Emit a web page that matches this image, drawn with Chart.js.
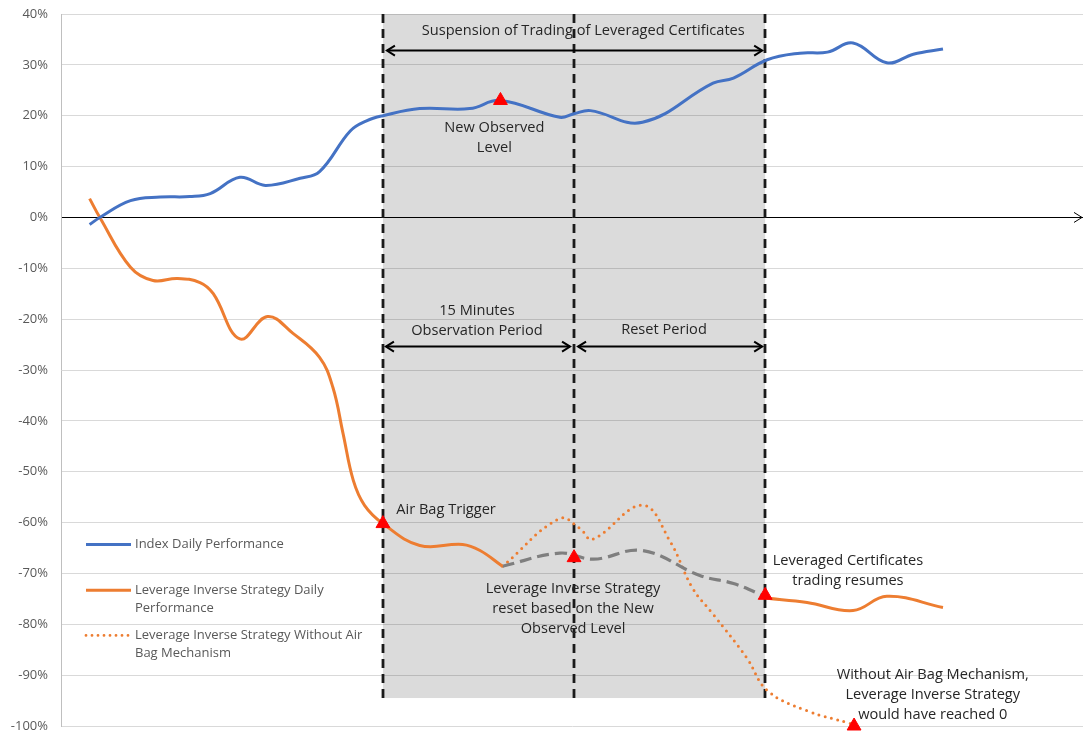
<!DOCTYPE html>
<html>
<head>
<meta charset="utf-8">
<script src="https://cdn.jsdelivr.net/npm/chart.js@4.4.1/dist/chart.umd.min.js"></script>
<style>
    body { margin: 0; background: #fff; }
    #wrap { width: 1083px; height: 735px; }
</style>
</head>
<body>
<div id="wrap"><canvas id="airbagChart" width="1083" height="735"></canvas></div>
<script>
// Data (x = time steps, y = performance in %)
const indexX = [2.8, 3.8, 6.8, 9.7, 12.6, 14.6, 17.5, 20, 23.4, 25.3, 28.3, 29.9, 31.5, 35.1, 40, 43, 48.8, 50.2, 51.8, 56.9, 63.8, 65.8, 69.1, 72.3, 75, 77.5, 80.8, 83.4, 86.3];
const indexY = [-1.4, 0, 3.3, 4.0, 4.1, 4.7, 7.9, 6.3, 7.7, 9.0, 17, 19, 20, 21.4, 21.4, 23, 19.7, 20.4, 21, 18.7, 26.4, 27.4, 31, 32.3, 32.5, 34.3, 30.4, 32.1, 33.1];

const inverseX = [2.8, 3.8, 6.8, 9.0, 11.4, 13.6, 14.9, 17.5, 20.2, 22.7, 25.3, 26.6, 27.6, 28.6, 29.7, 31.5, 35.1, 39.3, 41, 43.2];
const inverseY = [3.7, 0, -9.8, -12.4, -12, -12.8, -15, -23.9, -19.5, -22.8, -27.5, -33.4, -42.5, -51.7, -56.6, -60.2, -64.5, -64.3, -65.5, -68.6];

const resumedX = [69.1, 73, 77.5, 80.8, 86.3];
const resumedY = [-74.9, -75.7, -77.3, -74.5, -76.7];

const resetX = [43.2, 48.8, 52.1, 56.9, 62.5, 65.8, 69.1];
const resetY = [-68.6, -66, -67.2, -65.5, -70.4, -72, -74.7];

const noAirbagX = [43.2, 48.8, 50.8, 52, 56.9, 59.6, 61.8, 63.8, 67.1, 69.1, 73, 77.2, 77.6];
const noAirbagY = [-68.6, -59.2, -61.2, -63.3, -56.6, -63.7, -72.9, -78, -86.6, -93, -97, -99.5, -100];

const eventX = [31.5, 43, 50.2, 68.9, 77.6];
const eventY = [-60.2, 23, -66.9, -74.3, -100];

const yTicks = [40, 30, 20, 10, 0, -10, -20, -30, -40, -50, -60, -70, -80, -90, -100];

// phases: air bag trigger, reset start, trading resumes
const phaseLines = [31.5, 50.2, 68.9];

const toPoints = (xs, ys) => xs.map((v, i) => ({ x: v, y: ys[i] }));

const BLUE = '#4472c4';
const ORANGE = '#ed7d31';
const GREY = '#7f7f7f';
const TEXT = '#262626';

function arrowHead(ctx, x, y, dir) {
    ctx.beginPath();
    ctx.moveTo(x - dir * 8, y - 5);
    ctx.lineTo(x, y);
    ctx.lineTo(x - dir * 8, y + 5);
    ctx.stroke();
}

function doubleArrow(ctx, x1, x2, y) {
    ctx.beginPath();
    ctx.moveTo(x1, y);
    ctx.lineTo(x2, y);
    ctx.stroke();
    arrowHead(ctx, x1, y, -1);
    arrowHead(ctx, x2, y, 1);
}

function textLines(ctx, lines, x, y, align) {
    ctx.textAlign = align || 'center';
    lines.forEach((l, i) => ctx.fillText(l, x, y + i * 20));
}

const notesPlugin = {
    id: 'airbagNotes',
    beforeDatasetsDraw(chart) {
        const { ctx, scales: { x, y } } = chart;
        const left = x.getPixelForValue(phaseLines[0]);
        const right = x.getPixelForValue(phaseLines[2]);
        const top = y.getPixelForValue(40);
        const bottom = y.getPixelForValue(-94.5);
        ctx.save();
        ctx.fillStyle = 'rgba(0,0,0,0.14)';
        ctx.fillRect(left, top, right - left, bottom - top);

        ctx.strokeStyle = '#1a1a1a';
        ctx.lineWidth = 2.8;
        ctx.setLineDash([9, 6]);
        phaseLines.forEach(v => {
            const px = Math.round(x.getPixelForValue(v));
            ctx.beginPath();
            ctx.moveTo(px, top);
            ctx.lineTo(px, bottom);
            ctx.stroke();
        });
        ctx.restore();
    },
    afterDatasetsDraw(chart) {
        const { ctx, chartArea, scales: { x, y } } = chart;
        const px = v => x.getPixelForValue(v);
        const py = v => y.getPixelForValue(v);
        ctx.save();

        // arrow at the end of the zero line
        ctx.strokeStyle = '#000';
        ctx.lineWidth = 1;
        arrowHead(ctx, chartArea.right - 1, py(0), 1);

        // period arrows
        ctx.lineWidth = 2;
        doubleArrow(ctx, px(phaseLines[0]) + 4, px(phaseLines[2]) - 3, py(32.8));
        doubleArrow(ctx, px(phaseLines[0]) + 3, px(phaseLines[1]) - 4, py(-25.4));
        doubleArrow(ctx, px(phaseLines[1]) + 4, px(phaseLines[2]) - 3, py(-25.4));

        ctx.fillStyle = TEXT;
        ctx.font = '14.6px "Open Sans"';
        ctx.textBaseline = 'middle';
        textLines(ctx, ['Suspension of Trading of Leveraged Certificates'], px(51.1), py(36.6));
        textLines(ctx, ['15 Minutes', 'Observation Period'], px(40.7), py(-18.3));
        textLines(ctx, ['Reset Period'], px(59), py(-22.2));
        textLines(ctx, ['New Observed', 'Level'], px(42.4), py(17.7));
        textLines(ctx, ['Air Bag Trigger'], px(32.8), py(-57.4), 'left');
        textLines(ctx, ['Leverage Inverse Strategy', 'reset based on the New', 'Observed Level'], px(50.1), py(-73));
        textLines(ctx, ['Leveraged Certificates', 'trading resumes'], px(77), py(-67.6));
        textLines(ctx, ['Without Air Bag Mechanism,', 'Leverage Inverse Strategy', 'would have reached 0'], px(85.3), py(-90));

        // legend inside the plot
        const lx = chartArea.left + 25;
        const items = [
            { color: BLUE, dash: [], lines: ['Index Daily Performance'], y: -64.3 },
            { color: ORANGE, dash: [], lines: ['Leverage Inverse Strategy Daily', 'Performance'], y: -73.3 },
            { color: ORANGE, dash: [0, 6], lines: ['Leverage Inverse Strategy Without Air', 'Bag Mechanism'], y: -82.2 }
        ];
        ctx.font = '13px "Open Sans"';
        ctx.fillStyle = '#595959';
        items.forEach(it => {
            const ly = py(it.y);
            ctx.strokeStyle = it.color;
            ctx.lineWidth = it.dash.length ? 2.8 : 3;
            ctx.lineCap = it.dash.length ? 'round' : 'butt';
            ctx.setLineDash(it.dash);
            ctx.beginPath();
            ctx.moveTo(lx, ly);
            ctx.lineTo(lx + 45, ly);
            ctx.stroke();
            ctx.setLineDash([]);
            ctx.textAlign = 'left';
            it.lines.forEach((l, i) => ctx.fillText(l, lx + 49, ly + i * 18));
        });
        ctx.restore();
    }
};

const ctx = document.getElementById('airbagChart').getContext('2d');
new Chart(ctx, {
    type: 'line',
    data: {
        datasets: [
            {
                label: 'Events',
                data: toPoints(eventX, eventY),
                showLine: false,
                pointStyle: 'triangle',
                pointRadius: 8,
                pointBackgroundColor: '#ff0000',
                pointBorderColor: '#ff0000',
                clip: false,
                order: 0
            },
            {
                label: 'Index Daily Performance',
                data: toPoints(indexX, indexY),
                borderColor: BLUE,
                borderWidth: 3,
                tension: 0.4,
                pointRadius: 0,
                order: 1
            },
            {
                label: 'Leverage Inverse Strategy Daily Performance',
                data: toPoints(inverseX, inverseY),
                borderColor: ORANGE,
                borderWidth: 3,
                tension: 0.4,
                pointRadius: 0,
                order: 1
            },
            {
                label: 'Leverage Inverse Strategy Daily Performance (resumed)',
                data: toPoints(resumedX, resumedY),
                borderColor: ORANGE,
                borderWidth: 3,
                tension: 0.4,
                pointRadius: 0,
                order: 1
            },
            {
                label: 'Reset',
                data: toPoints(resetX, resetY),
                borderColor: GREY,
                borderWidth: 3.2,
                borderDash: [12, 6],
                tension: 0.4,
                pointRadius: 0,
                order: 1
            },
            {
                label: 'Leverage Inverse Strategy Without Air Bag Mechanism',
                data: toPoints(noAirbagX, noAirbagY),
                borderColor: ORANGE,
                borderWidth: 3,
                borderDash: [0, 6.5],
                borderCapStyle: 'round',
                tension: 0.4,
                pointRadius: 0,
                clip: false,
                order: 1
            }
        ]
    },
    options: {
        responsive: false,
        animation: false,
        layout: { autoPadding: false, padding: { top: 14, bottom: 9, left: 0, right: 0 } },
        plugins: {
            legend: { display: false },
            tooltip: { enabled: false }
        },
        scales: {
            x: {
                type: 'linear',
                min: 0,
                max: 100,
                display: false
            },
            y: {
                min: -100,
                max: 40,
                afterFit: function(scale) {
                    scale.width = 61;
                    scale.paddingTop = 0;
                    scale.paddingBottom = 0;
                },
                afterBuildTicks: function(scale) {
                    scale.ticks = yTicks.map(v => ({ value: v }));
                },
                border: { color: '#bfbfbf', width: 1 },
                grid: {
                    drawTicks: false,
                    color: function(c) {
                        return c.tick && c.tick.value === 0 ? '#000000' : '#d9d9d9';
                    }
                },
                ticks: {
                    padding: 13,
                    color: '#595959',
                    font: { family: 'Open Sans', size: 13 },
                    callback: function(value) { return value + '%'; }
                }
            }
        }
    },
    plugins: [notesPlugin]
});
</script>
</body>
</html>
